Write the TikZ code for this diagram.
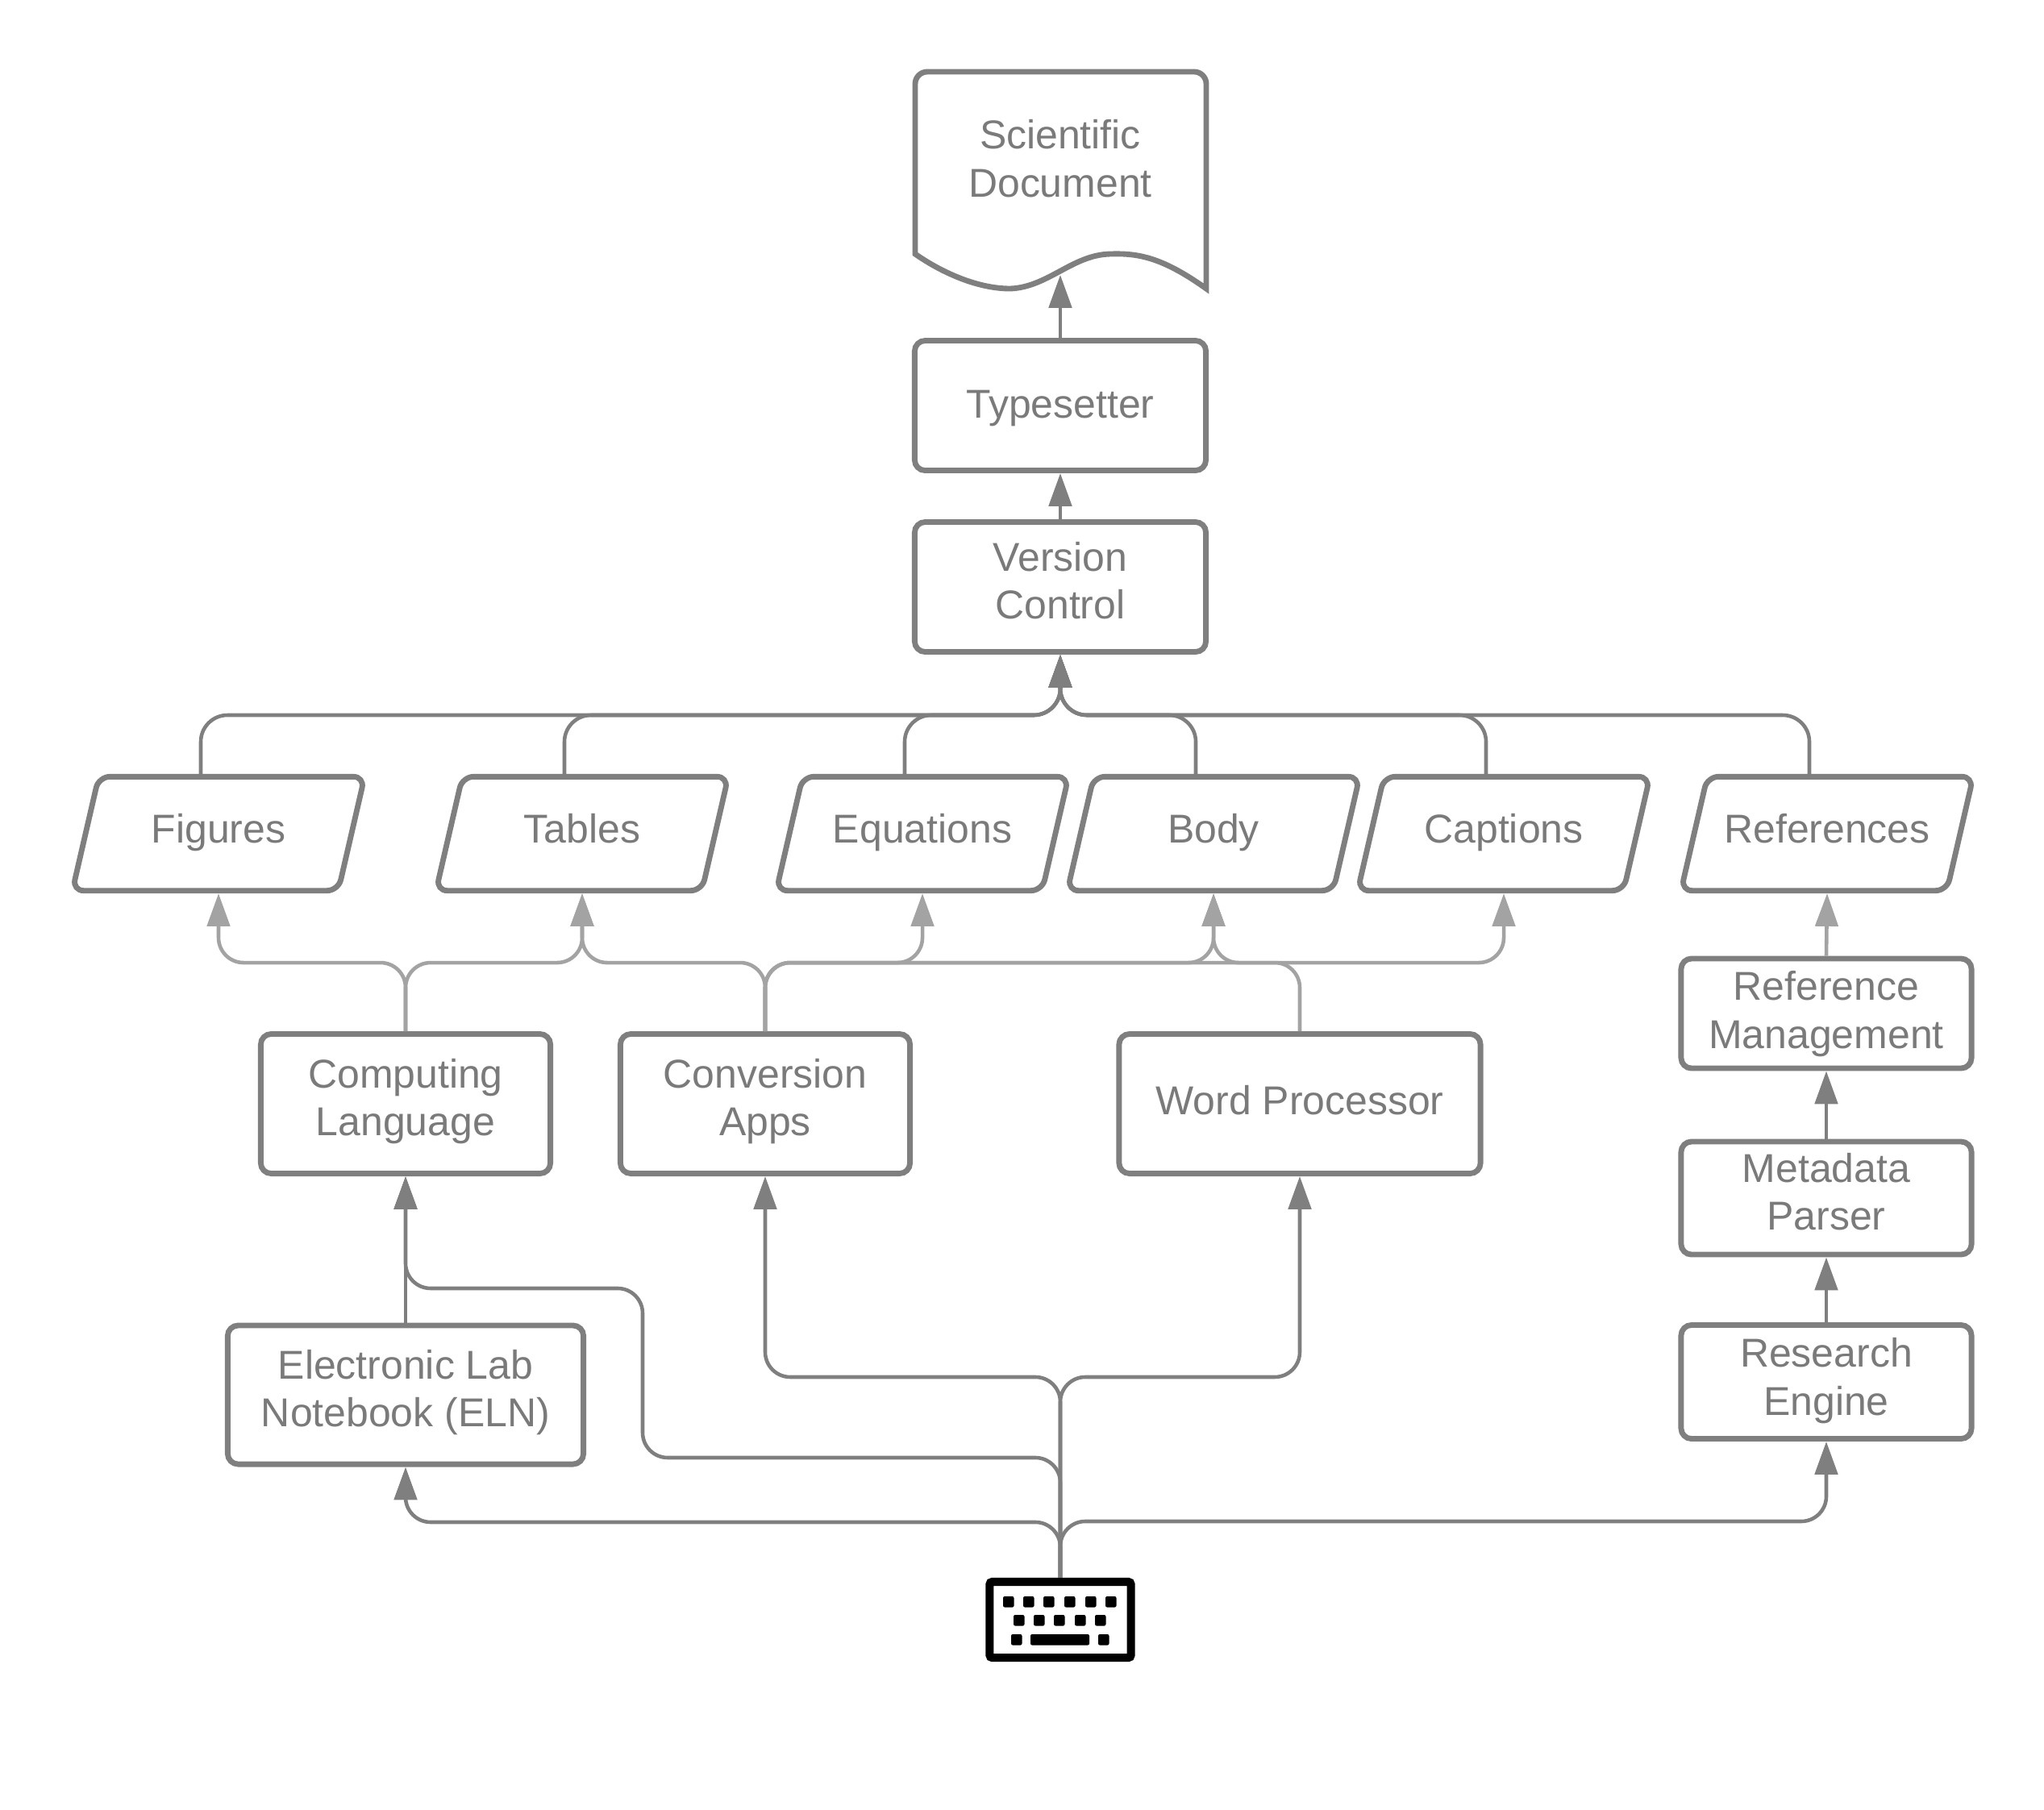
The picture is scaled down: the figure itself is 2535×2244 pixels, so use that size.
\documentclass[tikz,border=0pt]{standalone}
\usepackage{fontspec}
\setmainfont{Liberation Sans}
\usetikzlibrary{arrows.meta,shapes.geometric}
\definecolor{darkLine}{HTML}{7F7F7F}
\definecolor{lightLine}{HTML}{A3A3A3}
\definecolor{labelText}{HTML}{7A7A7A}
\tikzset{
  >={Triangle[length=11.6pt,width=8pt]},
  label text/.style={text=labelText,align=center,font=\fontsize{14.2}{17}\selectfont},
  outline/.style={draw=darkLine,line width=1.95pt,label text},
  boxnode/.style={outline,rectangle,rounded corners=0.13cm,inner sep=0pt,text depth=4.6pt},
  datanode/.style={outline,trapezium,trapezium left angle=77,trapezium right angle=103,
    text width=2.97cm,text height=10.3pt,text depth=3.7pt,inner xsep=0pt,inner ysep=13.1pt,
    rounded corners=0.14cm},
  dark/.style={draw=darkLine,fill=none,line width=1.3pt,rounded corners=0.31cm},
  light/.style={draw=lightLine,fill=none,line width=1.3pt,rounded corners=0.31cm},
  keycap/.style={fill=black,rounded corners=0.02cm},
}
\begin{document}
\begin{tikzpicture}[x=0.01cm,y=-0.01cm]
  \useasboundingbox (0,0) rectangle (2535,2244);

  % document
  \draw[outline,miter limit=10] (1135,315) [rounded corners=0.15cm]
    -- (1135,89) -- (1496,89) -- (1496,200) [sharp corners] -- (1496,358)
    .. controls (1440,318) and (1410,314) .. (1377,315)
    .. controls (1330,316) and (1300,356) .. (1253,358)
    .. controls (1210,358) and (1165,336) .. cycle;
  \node[label text] (doc) at (1315,197) {Scientific\\Document};
  \coordinate (doc in) at (1315,341);

  % boxes
  \node[boxnode,minimum width=3.61cm,minimum height=1.61cm,text depth=0.9pt] (typesetter) at (1315,503) {Typesetter};
  \node[boxnode,minimum width=3.61cm,minimum height=1.61cm] (version) at (1315,728) {Version\\Control};
  \node[boxnode,minimum width=3.59cm,minimum height=1.73cm] (computing) at (503,1369) {Computing\\Language};
  \node[boxnode,minimum width=3.59cm,minimum height=1.73cm] (conversion) at (949,1369) {Conversion\\Apps};
  \node[boxnode,minimum width=4.48cm,minimum height=1.73cm,text depth=2.7pt] (word) at (1612,1369) {Word Processor};
  \node[boxnode,minimum width=4.41cm,minimum height=1.72cm] (eln) at (503,1730) {Electronic Lab\\Notebook (ELN)};
  \node[boxnode,minimum width=3.6cm,minimum height=1.36cm,text depth=2.7pt] (refman) at (2265,1257) {Reference\\Management};
  \node[boxnode,minimum width=3.6cm,minimum height=1.4cm] (metadata) at (2265,1486) {Metadata\\Parser};
  \node[boxnode,minimum width=3.6cm,minimum height=1.41cm,text depth=3.7pt] (research) at (2265,1714) {Research\\Engine};

  % data
  \node[datanode] (figures) at (271,1034) {Figures};
  \node[datanode] (tables) at (722,1034) {Tables};
  \node[datanode] (equations) at (1144,1034) {Equations};
  \node[datanode] (body) at (1505,1034) {Body};
  \node[datanode] (captions) at (1865,1034) {Captions};
  \node[datanode] (references) at (2266,1034) {References};

  % keyboard
  \node[draw=black,line width=2.85pt,rounded corners=0.03cm,minimum width=1.75cm,minimum height=0.94cm,inner sep=0pt] (keyboard) at (1315,2009) {};
  \foreach \kx in {1244,1269,1294,1320,1346,1371}
    \fill[keycap] (\kx,1980) rectangle ++(13.5,13.5);
  \foreach \kx in {1257,1282,1307,1333,1358}
    \fill[keycap] (\kx,2003) rectangle ++(13.5,13.5);
  \fill[keycap] (1254,2027) rectangle ++(13.5,13.5);
  \fill[keycap] (1278,2027) rectangle ++(73,13.5);
  \fill[keycap] (1362,2027) rectangle ++(13.5,13.5);

  % top stack
  \draw[dark,->] (typesetter.north) -- (doc in);
  \draw[dark,->] (version.north) -- (typesetter.south);

  % into version control
  \coordinate (bus) at (1315,887);
  \foreach \src in {figures,tables,equations,body,captions,references}
    \draw[dark,rounded corners=0.33cm,->] ([xshift=-0.22cm]\src.north) |- (bus) -- (version.south);

  % light fan
  \foreach \src/\dst in {computing/figures,computing/tables,conversion/tables,conversion/equations,conversion/body,conversion/captions,word/body}
    \draw[light,->] (\src.north) -- ++(0,-85) -| (\dst.south);
  \draw[light,->] (refman.north) -- (references.south);

  % keyboard fan
  \draw[dark,->] (keyboard.north) -- ++(0,-69) -| (eln.south);
  \draw[dark,->] (keyboard.north) -- ++(0,-70) -| (research.south);
  \draw[dark,->] (keyboard.north) -- ++(0,-149) -- ++(-518,0) -- ++(0,-210) -- ++(-294,0) -- (computing.south);
  \draw[dark,->] (keyboard.north) -- ++(0,-249) -| (conversion.south);
  \draw[dark,->] (keyboard.north) -- ++(0,-249) -| (word.south);

  % right column and ELN
  \draw[dark,->] (eln.north) -- (computing.south);
  \draw[dark,->] (research.north) -- (metadata.south);
  \draw[dark,->] (metadata.north) -- (refman.south);
\end{tikzpicture}
\end{document}
